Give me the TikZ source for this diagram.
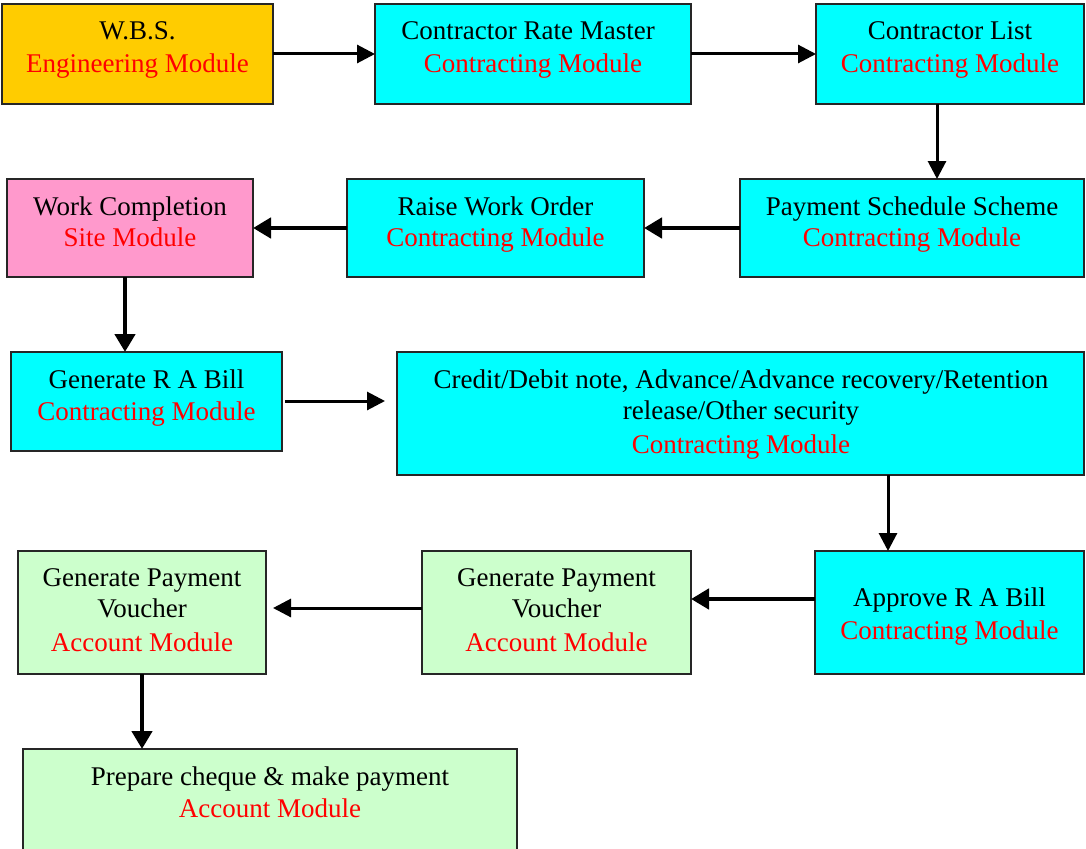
\documentclass[tikz,border=0pt]{standalone}
\usepackage{fontspec}
\setmainfont{Liberation Serif}
\usetikzlibrary{arrows.meta}
\definecolor{boxorange}{HTML}{FFCC00}
\definecolor{boxcyan}{HTML}{00FFFF}
\definecolor{boxpink}{HTML}{FF99CC}
\definecolor{boxgreen}{HTML}{CCFFCC}
\definecolor{modred}{HTML}{FF0000}
\begin{document}
\begin{tikzpicture}[x=1pt,y=-1pt,
  box/.style={draw=black!85, line width=1.5pt, inner sep=0pt, outer sep=0pt},
  txt/.style={anchor=base, inner sep=0pt, font=\fontsize{27}{32}\selectfont, text=black},
  mod/.style={txt, text=modred},
  thin/.style={line width=3pt, -{Triangle[length=18pt,width=18pt]}},
  thick/.style={line width=4.5pt, -{Triangle[length=18pt,width=20pt]}}]
\useasboundingbox (0,0) rectangle (1086,848);
\begin{scope}
\clip (0,0) rectangle (1086,848);
% boxes
\node[box, fill=boxorange, minimum width=271pt, minimum height=100pt] (b1) at (137.5,54) {};
\node[box, fill=boxcyan, minimum width=316pt, minimum height=100pt] (b2) at (533,54) {};
\node[box, fill=boxcyan, minimum width=268pt, minimum height=100pt] (b3) at (950,54) {};
\node[box, fill=boxcyan, minimum width=344pt, minimum height=98pt] (b4) at (912,228) {};
\node[box, fill=boxcyan, minimum width=297pt, minimum height=98pt] (b5) at (495.5,228) {};
\node[box, fill=boxpink, minimum width=246pt, minimum height=98pt] (b6) at (130,228) {};
\node[box, fill=boxcyan, minimum width=271pt, minimum height=99pt] (b7) at (146.5,401.5) {};
\node[box, fill=boxcyan, minimum width=687pt, minimum height=123pt] (b8) at (740.5,413.5) {};
\node[box, fill=boxcyan, minimum width=269pt, minimum height=123pt] (b9) at (949.5,612.5) {};
\node[box, fill=boxgreen, minimum width=269pt, minimum height=123pt] (b10) at (556.5,612.5) {};
\node[box, fill=boxgreen, minimum width=248pt, minimum height=123pt] (b11) at (142,612.5) {};
\node[box, fill=boxgreen, minimum width=494pt, minimum height=111pt] (b12) at (270,804.5) {};
% texts
\node[txt] (t1a) at (137.5,40) {W.B.S.};
\node[mod] (t1b) at (137.5,73) {Engineering Module};
\node[txt] (t2a) at (528,40) {Contractor Rate Master};
\node[mod] (t2b) at (533,73) {Contracting Module};
\node[txt] (t3a) at (950,40) {Contractor List};
\node[mod] (t3b) at (950,73) {Contracting Module};
\node[txt] (t4a) at (912,215) {Payment Schedule Scheme};
\node[mod] (t4b) at (912,246) {Contracting Module};
\node[txt] (t5a) at (495.5,215) {Raise Work Order};
\node[mod] (t5b) at (495.5,246) {Contracting Module};
\node[txt] (t6a) at (130,215) {Work Completion};
\node[mod] (t6b) at (130,246) {Site Module};
\node[txt] (t7a) at (146.5,388) {Generate R A Bill};
\node[mod] (t7b) at (146.5,420) {Contracting Module};
\node[txt] (t8a) at (741,388) {Credit/Debit note, Advance/Advance recovery/Retention};
\node[txt] (t8b) at (741,419) {release/Other security};
\node[mod] (t8c) at (741,453) {Contracting Module};
\node[txt] (t9a) at (949.5,606) {Approve R A Bill};
\node[mod] (t9b) at (949.5,639) {Contracting Module};
\node[txt] (t10a) at (556.5,586) {Generate Payment};
\node[txt] (t10b) at (556.5,617) {Voucher};
\node[mod] (t10c) at (556.5,651) {Account Module};
\node[txt] (t11a) at (142,586) {Generate Payment};
\node[txt] (t11b) at (142,617) {Voucher};
\node[mod] (t11c) at (142,651) {Account Module};
\node[txt] (t12a) at (270,785) {Prepare cheque \& make payment};
\node[mod] (t12b) at (270,817) {Account Module};
% connectors
\draw[thin] (b1.east) -- (b2.west);
\draw[thin] (b2.east) -- (b3.west);
\draw[thin] ([xshift=-13pt]b3.south) -- ([xshift=-13pt]b3.south |- b4.north);
\draw[thick] (b4.west) -- (b5.east);
\draw[thick] (b5.west) -- (b6.east);
\draw[thick] ([xshift=-5pt]b6.south) -- ([xshift=-5pt]b6.south |- b7.north);
\draw[thin, shorten <=3pt, shorten >=12pt] ([yshift=0.5pt]b7.east) -- ([yshift=0.5pt]b7.east -| b8.west);
\draw[thin] ([xshift=147.5pt]b8.south) -- ([xshift=147.5pt]b8.south |- b9.north);
\draw[thick] ([yshift=13.5pt]b9.west) -- ([yshift=13.5pt]b9.west -| b10.east);
\draw[thin, shorten >=7pt] ([yshift=4.5pt]b10.west) -- ([yshift=4.5pt]b10.west -| b11.east);
\draw[thick] (b11.south) -- (b11.south |- b12.north);
\end{scope}
\end{tikzpicture}
\end{document}
